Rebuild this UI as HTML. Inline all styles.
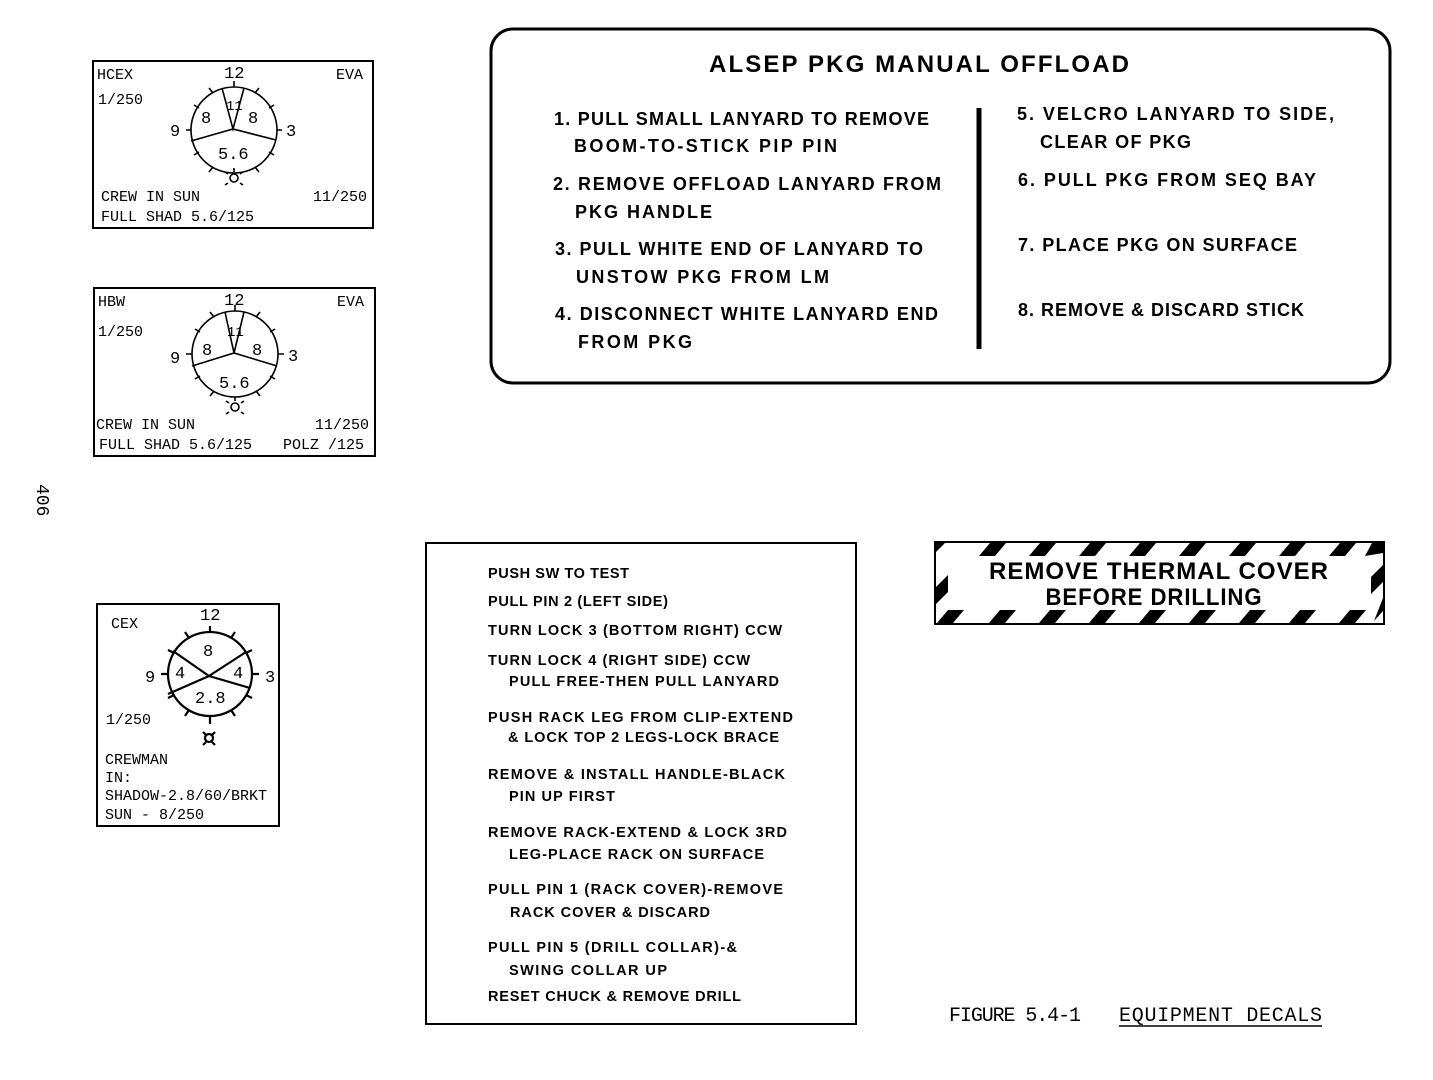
<!DOCTYPE html>
<html><head><meta charset="utf-8"><style>
html,body{margin:0;padding:0;background:#fff;}
svg{display:block}
.m{font-family:"Liberation Mono",monospace;font-size:15px;fill:#000}
.b{font-family:"Liberation Sans",sans-serif;font-weight:bold;fill:#000}
.d{font-size:17px}
</style></head><body>
<svg width="1433" height="1080" viewBox="0 0 1433 1080" xmlns="http://www.w3.org/2000/svg">
<g fill="none" stroke="#000" stroke-width="2">
<rect x="93" y="61" width="280" height="167"/>
<rect x="94" y="288" width="281" height="168"/>
<rect x="97" y="604" width="182" height="222"/>
<rect x="491" y="29" width="899" height="354" rx="22" stroke-width="3"/>
<rect x="426" y="543" width="430" height="481"/>
<rect x="935" y="542" width="449" height="82"/>
<line x1="979" y1="108" x2="979" y2="349" stroke-width="5"/>
<line x1="1119" y1="1026" x2="1322" y2="1026" stroke-width="1.5"/>
</g>
<!-- dial 1 -->
<g fill="none" stroke="#000" stroke-width="1.6">
<circle cx="234" cy="130" r="43"/>
<polyline points="191,141 233,129 276,140"/>
<polyline points="222,88 233,129 244,88"/>
<path d="M234 87v-6M255 93l4-5M269 108l5-3M269 152l5 3M255 167l4 5M213 167l-4 5M199 152l-5 3M199 108l-5-3M213 93l-4-5M191 130h-5M277 130h5"/>
<circle cx="234" cy="178" r="4"/><path d="M234 172v-4M228 183l-3 2M240 183l3 2M228 174l-3-2M240 174l3-2"/>
</g>
<!-- dial 2 -->
<g fill="none" stroke="#000" stroke-width="1.6">
<circle cx="235" cy="354" r="43"/>
<polyline points="192,366 234,353 277,366"/>
<polyline points="225,312 234,353 244,312"/>
<path d="M235 311v-6M256 317l4-5M270 332l5-3M270 376l5 3M256 391l4 5M214 391l-4 5M200 376l-5 3M200 332l-5-3M214 317l-4-5M192 354h-6M278 354h6"/>
<circle cx="235" cy="407" r="4"/><path d="M235 401v-4M229 412l-3 2M241 412l3 2M229 403l-3-2M241 403l3-2"/>
</g>
<!-- dial 3 -->
<g fill="none" stroke="#000" stroke-width="2.2">
<circle cx="210" cy="674" r="42"/>
<polyline points="173,651 209,676 168,694"/>
<polyline points="246,652 209,676 250,688"/>
<path d="M210 632v-6M231 638l4-6M246 653l6-3M246 695l6 3M231 710l4 6M189 710l-4 6M174 695l-6 3M174 653l-6-3M189 638l-4-6M168 674h-7M252 674h7M210 716v8"/>
<circle cx="209" cy="738" r="4"/><path d="M203 732l3 3M215 732l-3 3M203 745l3-3M215 745l-3-3"/>
</g>
<!-- dial texts -->
<g class="m">
<text x="97" y="79">HCEX</text><text x="336" y="79">EVA</text>
<text x="98" y="104">1/250</text>
<text class="d" x="224" y="78">12</text><text class="d" x="170" y="136">9</text><text class="d" x="286" y="136">3</text>
<text class="d" x="201" y="123">8</text><text class="d" x="248" y="123">8</text><text x="226" y="110" font-size="14">11</text>
<text class="d" x="218" y="159">5.6</text>
<text x="101" y="201">CREW IN SUN</text><text x="313" y="201">11/250</text>
<text x="101" y="221">FULL SHAD 5.6/125</text>

<text x="98" y="306">HBW</text><text x="337" y="306">EVA</text>
<text x="98" y="336">1/250</text>
<text class="d" x="224" y="305">12</text><text class="d" x="170" y="363">9</text><text class="d" x="288" y="361">3</text>
<text class="d" x="202" y="355">8</text><text class="d" x="252" y="355">8</text><text x="227" y="336" font-size="14">11</text>
<text class="d" x="219" y="388">5.6</text>
<text x="96" y="429">CREW IN SUN</text><text x="315" y="429">11/250</text>
<text x="99" y="449">FULL SHAD 5.6/125</text><text x="283" y="449">POLZ /125</text>

<text x="111" y="628">CEX</text>
<text class="d" x="200" y="620">12</text><text class="d" x="145" y="682">9</text><text class="d" x="265" y="682">3</text>
<text class="d" x="203" y="656">8</text><text class="d" x="175" y="678">4</text><text class="d" x="233" y="678">4</text>
<text class="d" x="195" y="703">2.8</text>
<text x="106" y="724">1/250</text>
<text x="105" y="764">CREWMAN</text><text x="105" y="782">IN:</text>
<text x="105" y="800">SHADOW-2.8/60/BRKT</text>
<text x="105" y="819">SUN -  8/250</text>
<text x="949" y="1021" font-size="20" textLength="132">FIGURE 5.4-1</text>
<text x="1119" y="1021" font-size="20" textLength="203">EQUIPMENT DECALS</text>
<text transform="translate(37,484) rotate(90)" font-size="18">406</text>
</g>
<!-- ALSEP -->
<g class="b" font-size="18" letter-spacing="1">
<text x="709" y="72" font-size="24" textLength="421">ALSEP PKG MANUAL OFFLOAD</text>
<text x="554" y="125" textLength="376">1. PULL SMALL LANYARD TO REMOVE</text>
<text x="574" y="152" textLength="264">BOOM-TO-STICK PIP PIN</text>
<text x="553" y="190" textLength="389">2. REMOVE OFFLOAD LANYARD FROM</text>
<text x="575" y="218" textLength="138">PKG HANDLE</text>
<text x="555" y="255" textLength="369">3. PULL WHITE END OF LANYARD TO</text>
<text x="576" y="283" textLength="254">UNSTOW PKG FROM LM</text>
<text x="555" y="320" textLength="384">4. DISCONNECT WHITE LANYARD END</text>
<text x="578" y="348" textLength="115">FROM PKG</text>
<text x="1017" y="120" textLength="318">5. VELCRO LANYARD TO SIDE,</text>
<text x="1040" y="148" textLength="152">CLEAR OF PKG</text>
<text x="1018" y="186" textLength="299">6. PULL PKG FROM SEQ BAY</text>
<text x="1018" y="251" textLength="280">7. PLACE PKG ON SURFACE</text>
<text x="1018" y="316" textLength="287">8. REMOVE &amp; DISCARD STICK</text>
</g>
<!-- instructions -->
<g class="b" font-size="14.5">
<text x="488" y="578" textLength="141">PUSH SW TO TEST</text>
<text x="488" y="606" textLength="180">PULL PIN 2 (LEFT SIDE)</text>
<text x="488" y="635" textLength="294">TURN LOCK 3 (BOTTOM RIGHT) CCW</text>
<text x="488" y="665" textLength="262">TURN LOCK 4 (RIGHT SIDE) CCW</text>
<text x="509" y="686" textLength="270">PULL FREE-THEN PULL LANYARD</text>
<text x="488" y="722" textLength="305">PUSH RACK LEG FROM CLIP-EXTEND</text>
<text x="508" y="742" textLength="271">&amp; LOCK TOP 2 LEGS-LOCK BRACE</text>
<text x="488" y="779" textLength="297">REMOVE &amp; INSTALL HANDLE-BLACK</text>
<text x="509" y="801" textLength="106">PIN UP FIRST</text>
<text x="488" y="837" textLength="299">REMOVE RACK-EXTEND &amp; LOCK 3RD</text>
<text x="509" y="859" textLength="255">LEG-PLACE RACK ON SURFACE</text>
<text x="488" y="894" textLength="295">PULL PIN 1 (RACK COVER)-REMOVE</text>
<text x="510" y="917" textLength="200">RACK COVER &amp; DISCARD</text>
<text x="488" y="952" textLength="249">PULL PIN 5 (DRILL COLLAR)-&amp;</text>
<text x="509" y="975" textLength="158">SWING COLLAR UP</text>
<text x="488" y="1001" textLength="253">RESET CHUCK &amp; REMOVE DRILL</text>
</g>
<!-- thermal -->
<g fill="#000">
<polygon points="936,543 945,543 936,552"/>
<polygon points="990,543 1006,543 995,556 979,556"/>
<polygon points="1040,543 1056,543 1045,556 1029,556"/>
<polygon points="1090,543 1106,543 1095,556 1079,556"/>
<polygon points="1140,543 1156,543 1145,556 1129,556"/>
<polygon points="1190,543 1206,543 1195,556 1179,556"/>
<polygon points="1240,543 1256,543 1245,556 1229,556"/>
<polygon points="1290,543 1306,543 1295,556 1279,556"/>
<polygon points="1340,543 1356,543 1345,556 1329,556"/>
<polygon points="1372,543 1383,543 1383,553 1365,556"/>
<polygon points="1383,565 1383,582 1371,594 1371,577"/>
<polygon points="948,575 948,592 936,604 936,587"/>
<polygon points="948,610 964,610 953,623 937,623"/>
<polygon points="1000,610 1016,610 1005,623 989,623"/>
<polygon points="1050,610 1066,610 1055,623 1039,623"/>
<polygon points="1100,610 1116,610 1105,623 1089,623"/>
<polygon points="1150,610 1166,610 1155,623 1139,623"/>
<polygon points="1200,610 1216,610 1205,623 1189,623"/>
<polygon points="1250,610 1266,610 1255,623 1239,623"/>
<polygon points="1300,610 1316,610 1305,623 1289,623"/>
<polygon points="1350,610 1366,610 1355,623 1339,623"/>
<polygon points="1383,598 1383,611 1374,621"/>
</g>
<g class="b" font-size="24" text-anchor="middle" letter-spacing="1">
<text x="1159" y="579" textLength="340" lengthAdjust="spacingAndGlyphs">REMOVE THERMAL COVER</text>
<text x="1154" y="605" textLength="217" lengthAdjust="spacingAndGlyphs">BEFORE DRILLING</text>
</g>
</svg>
</body></html>
